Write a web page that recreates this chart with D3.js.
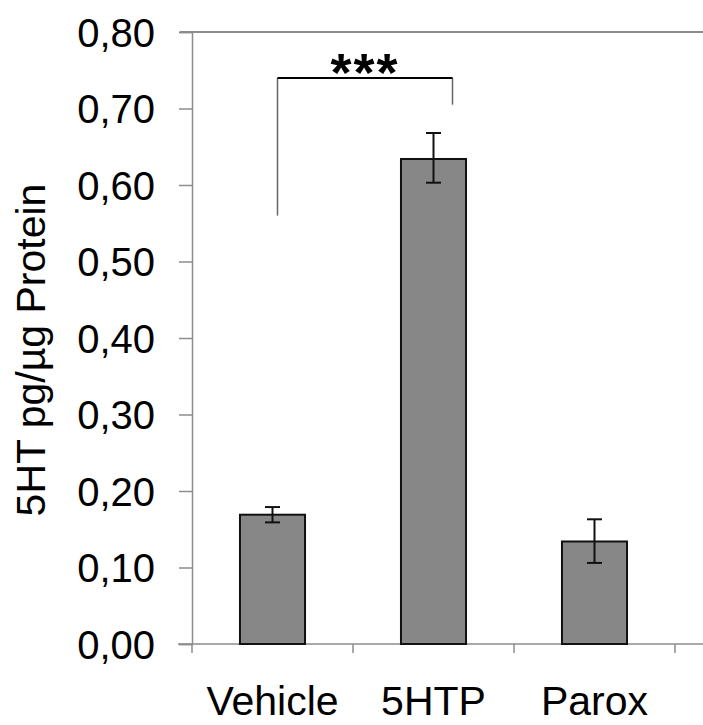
<!DOCTYPE html>
<html>
<head>
<meta charset="utf-8">
<script src="https://cdn.jsdelivr.net/npm/d3@7"></script>
<style>
  html, body { margin: 0; padding: 0; background: #fff; }
  svg { display: block; }
  text { font-family: "Liberation Sans", Arial, sans-serif; }
</style>
</head>
<body>
<svg id="chart" width="703" height="725"></svg>
<script>
// ---- data ----
const categories = ["Vehicle", "5HTP", "Parox"];
const means      = [0.169, 0.634, 0.134];
const errLow     = [0.159, 0.603, 0.106];
const errHigh    = [0.179, 0.668, 0.163];
const yTicks     = [0, 0.1, 0.2, 0.3, 0.4, 0.5, 0.6, 0.7, 0.8];
const yTitle     = "5HT pg/µg Protein";
const sigLabel   = "***";
const sigPair    = ["Vehicle", "5HTP"];
const sigLeftTo  = 0.56;   // value where left bracket leg ends
const sigRightTo = 0.705;  // value where right bracket leg ends
const sigLevel   = 0.74;   // value of bracket top

// ---- layout ----
const svg = d3.select("#chart");
const x0 = 192, x1 = 675, yTop = 32, yBot = 644;

const x = d3.scaleBand().domain(categories).range([x0, x1])
  .paddingInner(0.596).paddingOuter(0.298);
const y = d3.scaleLinear().domain([0, 0.8]).range([yBot, yTop]);

const axisGray = "#8c8c8c";
const fmt = v => d3.format(".2f")(v).replace(".", ",");

// top border
svg.append("line")
  .attr("x1", 180).attr("x2", 703).attr("y1", y(0.8)).attr("y2", y(0.8))
  .attr("stroke", axisGray).attr("stroke-width", 2);

// y axis
const yAxis = svg.append("g").attr("transform", `translate(${x0},0)`)
  .call(d3.axisLeft(y).tickValues(yTicks).tickFormat(fmt).tickSize(13).tickPadding(24));
yAxis.select(".domain").attr("stroke", axisGray).attr("stroke-width", 1.5);
yAxis.selectAll(".tick line").attr("stroke", axisGray).attr("stroke-width", 1.5);
yAxis.selectAll(".tick text").attr("fill", "#000").style("font-size", "40px")
  .attr("dy", "0.35em");

// x axis baseline + ticks at band boundaries
svg.append("line")
  .attr("x1", 178).attr("x2", 703).attr("y1", yBot).attr("y2", yBot)
  .attr("stroke", axisGray).attr("stroke-width", 1.5);
const boundaries = categories.map((c, i) => x0 + i * x.step()).concat([x1]);
svg.selectAll(".xtick").data(boundaries).enter().append("line")
  .attr("x1", d => d).attr("x2", d => d).attr("y1", yBot).attr("y2", yBot + 9)
  .attr("stroke", axisGray).attr("stroke-width", 1.5);

svg.selectAll(".xlabel").data(categories).enter().append("text")
  .attr("x", d => x(d) + x.bandwidth() / 2)
  .attr("y", 715)
  .attr("text-anchor", "middle")
  .style("font-size", "41px")
  .attr("fill", "#000")
  .text(d => d);

// bars
svg.selectAll(".bar").data(categories).enter().append("rect")
  .attr("x", d => x(d))
  .attr("width", x.bandwidth())
  .attr("y", (d, i) => y(means[i]))
  .attr("height", (d, i) => y(0) - y(means[i]))
  .attr("fill", "#878787")
  .attr("stroke", "#111")
  .attr("stroke-width", 2);

// error bars
const cap = 7.5;
categories.forEach((c, i) => {
  const cx = x(c) + x.bandwidth() / 2;
  const g = svg.append("g").attr("stroke", "#111").attr("stroke-width", 2);
  g.append("line").attr("x1", cx).attr("x2", cx).attr("y1", y(errHigh[i])).attr("y2", y(errLow[i]));
  g.append("line").attr("x1", cx - cap).attr("x2", cx + cap).attr("y1", y(errHigh[i])).attr("y2", y(errHigh[i]));
  g.append("line").attr("x1", cx - cap).attr("x2", cx + cap).attr("y1", y(errLow[i])).attr("y2", y(errLow[i]));
});

// significance bracket
const bx1 = x(sigPair[0]) + x.bandwidth() / 2 + 5;
const bx2 = x(sigPair[1]) + x.bandwidth() / 2 + 19;
svg.append("line").attr("x1", bx1).attr("x2", bx1).attr("y1", y(sigLevel)).attr("y2", y(sigLeftTo))
  .attr("stroke", "#666").attr("stroke-width", 1.5);
svg.append("line").attr("x1", bx2).attr("x2", bx2).attr("y1", y(sigLevel)).attr("y2", y(sigRightTo))
  .attr("stroke", "#666").attr("stroke-width", 1.5);
svg.append("line").attr("x1", bx1).attr("x2", bx2).attr("y1", y(sigLevel)).attr("y2", y(sigLevel))
  .attr("stroke", "#000").attr("stroke-width", 2);
svg.append("text")
  .attr("x", (bx1 + bx2) / 2).attr("y", y(sigLevel) + 13)
  .attr("text-anchor", "middle")
  .style("font-size", "54px").style("font-weight", "bold")
  .style("letter-spacing", "2px")
  .text(sigLabel);

// y title
svg.append("text")
  .attr("transform", `translate(45, 350) rotate(-90)`)
  .attr("text-anchor", "middle")
  .style("font-size", "41px")
  .attr("fill", "#000")
  .text(yTitle);
</script>
</body>
</html>
